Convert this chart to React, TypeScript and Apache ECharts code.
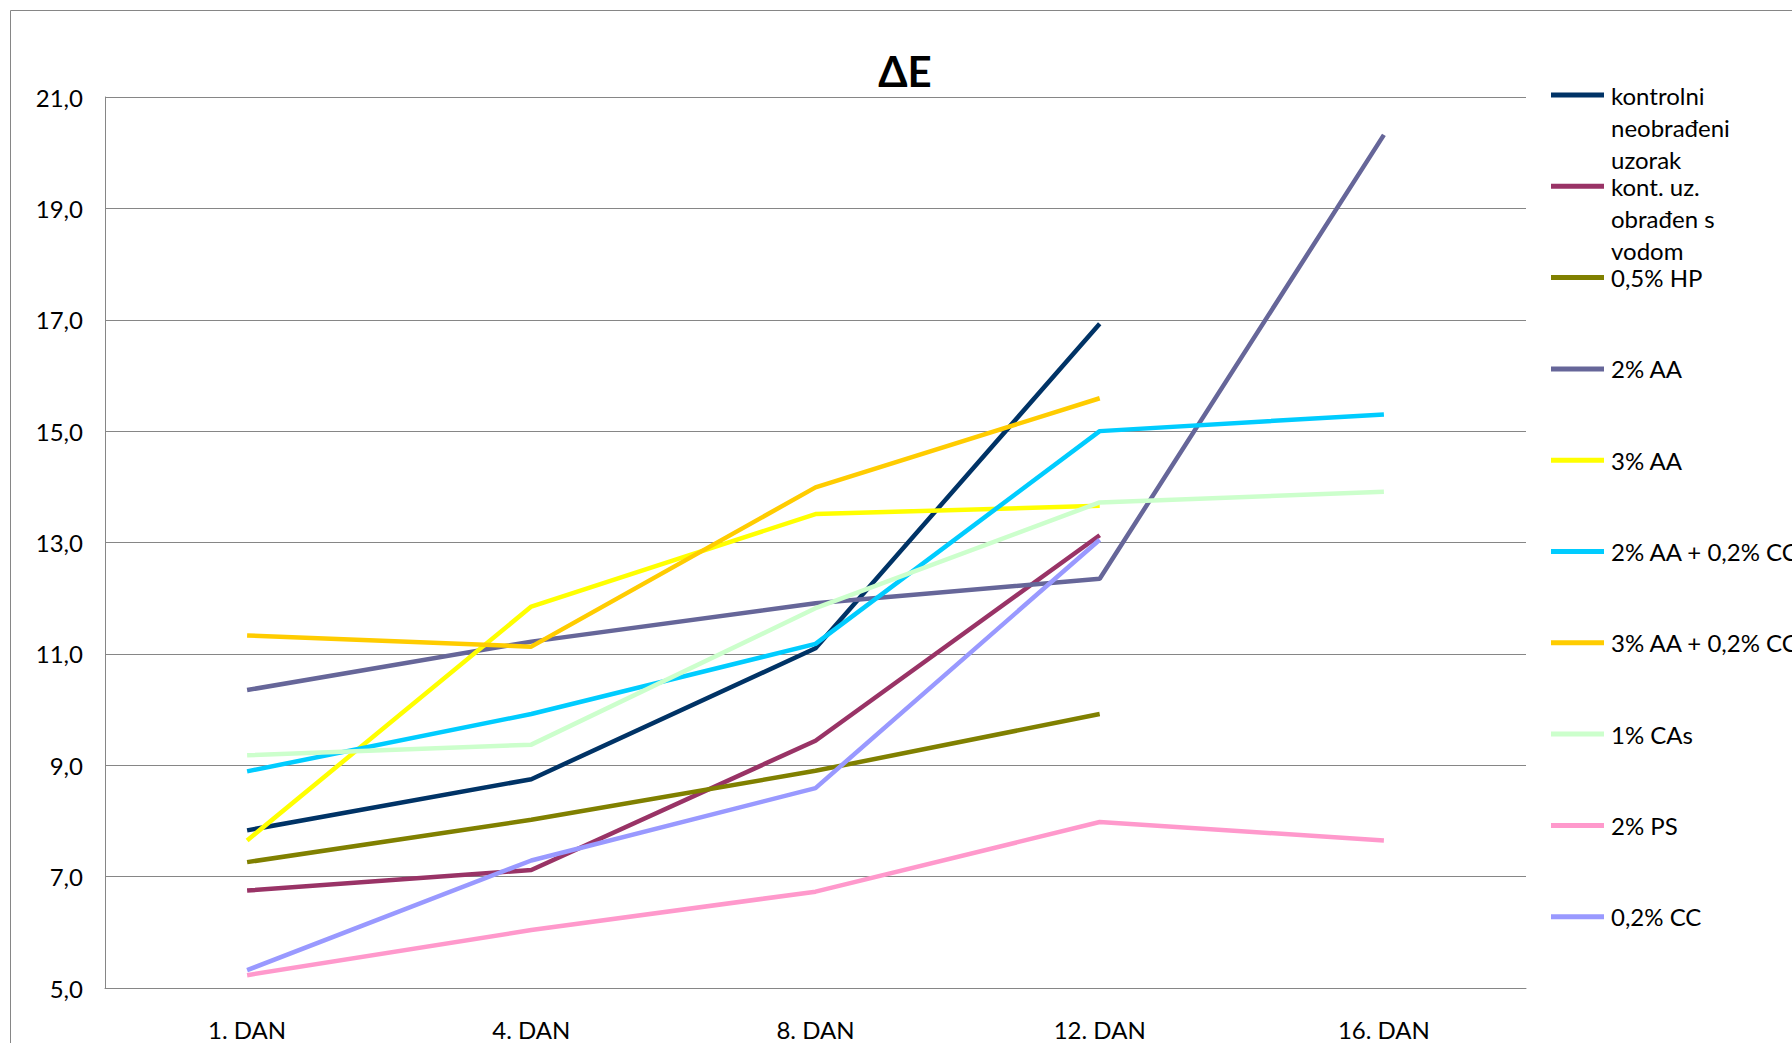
import React, { useEffect, useRef } from "react";
import * as echarts from "echarts";

const categories = ["1. DAN", "4. DAN", "8. DAN", "12. DAN", "16. DAN"];
const yTicks = { min: 5, max: 21, interval: 2 };

const seriesNames = [
  "kontrolni neobrađeni uzorak",
  "kont. uz. obrađen s vodom",
  "0,5% HP",
  "2% AA",
  "3% AA",
  "2% AA + 0,2% CC",
  "3% AA + 0,2% CC",
  "1% CAs",
  "2% PS",
  "0,2% CC",
];
const legendLabels = [
  ["kontrolni", "neobrađeni", "uzorak"],
  ["kont. uz.", "obrađen s", "vodom"],
  ["0,5% HP"],
  ["2% AA"],
  ["3% AA"],
  ["2% AA + 0,2% CC"],
  ["3% AA + 0,2% CC"],
  ["1% CAs"],
  ["2% PS"],
  ["0,2% CC"],
];

const kontrolni = [7.83, 8.75, 11.1, 16.93, null];
const kontVoda = [6.75, 7.12, 9.44, 13.13, null];
const hp05 = [7.26, 8.02, 8.9, 9.92, null];
const aa2 = [10.35, 11.22, 11.91, 12.35, 20.32];
const aa3 = [7.65, 11.85, 13.51, 13.66, null];
const aa2cc = [8.89, 9.92, 11.18, 15.0, 15.3];
const aa3cc = [11.33, 11.13, 13.99, 15.59, null];
const cas1 = [9.18, 9.37, 11.82, 13.72, 13.91];
const ps2 = [5.23, 6.04, 6.73, 7.98, 7.65];
const cc02 = [5.32, 7.29, 8.59, 13.05, null];

const seriesValues = [kontrolni, kontVoda, hp05, aa2, aa3, aa2cc, aa3cc, cas1, ps2, cc02];

const colors = [
  "#003366",
  "#993366",
  "#808000",
  "#666699",
  "#FFFF00",
  "#00CCFF",
  "#FFCC00",
  "#CCFFCC",
  "#FF99CC",
  "#9999FF",
];

const FONT = "Lato, 'Liberation Sans', sans-serif";

export default function App() {
  const ref = useRef<HTMLDivElement>(null);

  useEffect(() => {
    if (!ref.current) return;
    const chart = echarts.init(ref.current, null, { renderer: "svg" });

    const lineH = 32;
    const itemH = 5;
    const legends = seriesNames.map((name, i) => {
      const lines = legendLabels[i];
      // pad with blank lines above so that the first line sits level with the marker
      const blanks = lines.length - 1;
      const label = Array(blanks).fill("").concat(lines).join("\n");
      const nLines = lines.length + blanks;
      const padTop = 6;
      const H = nLines * lineH + padTop;
      const markerCenter = 95 + i * 91.3;
      const top = markerCenter - H / 2;
      return {
        data: [name],
        orient: "vertical",
        left: 1551,
        top: top,
        padding: 0,
        icon: "rect",
        itemWidth: 53,
        itemHeight: itemH,
        formatter: () => label,
        textStyle: {
          fontFamily: FONT,
          fontSize: 24,
          color: "#000",
          lineHeight: lineH,
          padding: [padTop, 0, 0, 2],
        },
      };
    });

    chart.setOption({
      animation: false,
      backgroundColor: "#fff",
      title: {
        text: "ΔE",
        left: 900,
        top: 45,
        textAlign: "center",
        textStyle: { fontFamily: FONT, fontSize: 42, fontWeight: "bold", color: "#000" },
      },
      graphic: [
        {
          type: "rect",
          shape: { x: 10.5, y: 10.5, width: 1900, height: 1200 },
          style: { fill: "none", stroke: "#868686", lineWidth: 1 },
          silent: true,
        },
      ],
      legend: legends,
      grid: { left: 105, right: 266, top: 97, bottom: 55, containLabel: false },
      xAxis: {
        type: "category",
        data: categories,
        boundaryGap: true,
        axisLine: { show: true, lineStyle: { color: "#868686", width: 1 } },
        axisTick: { show: false },
        axisLabel: { fontFamily: FONT, fontSize: 24, color: "#000", margin: 29 },
        splitLine: { show: false },
      },
      yAxis: {
        type: "value",
        min: yTicks.min,
        max: yTicks.max,
        interval: yTicks.interval,
        axisLine: { show: true, lineStyle: { color: "#868686", width: 1 } },
        axisTick: { show: false },
        axisLabel: {
          fontFamily: FONT,
          fontSize: 24,
          color: "#000",
          margin: 22,
          formatter: (v: number) => v.toFixed(1).replace(".", ","),
        },
        splitLine: { show: true, lineStyle: { color: "#868686", width: 1 } },
      },
      series: seriesNames.map((name, i) => ({
        name,
        type: "line",
        data: seriesValues[i],
        showSymbol: false,
        symbol: "none",
        connectNulls: false,
        color: colors[i],
        lineStyle: { color: colors[i], width: 4.5 },
        emphasis: { disabled: true },
      })),
    });

    return () => chart.dispose();
  }, []);

  return (
    <div
      ref={ref}
      style={{ position: "fixed", left: 0, top: 0, width: 1792, height: 1043, background: "#fff" }}
    />
  );
}
